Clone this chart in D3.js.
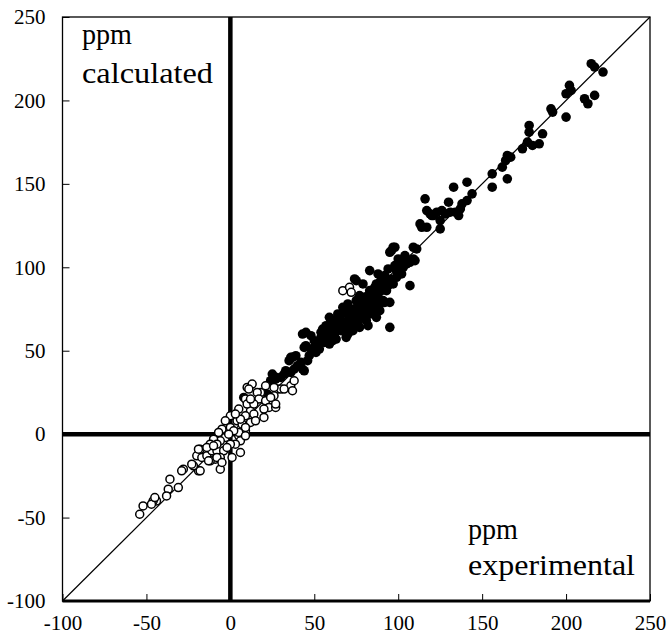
<!DOCTYPE html>
<html>
<head>
<meta charset="utf-8">
<script src="https://cdn.jsdelivr.net/npm/d3@7"></script>
<style>
  body { margin: 0; background: #fff; }
  text { font-family: "Liberation Serif", "Times New Roman", serif; fill: #000; }
</style>
</head>
<body>
<script>
//Data: [experimental, calculated]
const filledPoints = [
  [215,222],[217,220],[222,217],[202,209],[200,204],[203,206],[211,201],[217,203],[213,198],[191,195],
  [192,193],[200,190],[178,185],[178,181],[186,180],[177,175],[180,173],[184,174],[174,171],[165,167],
  [167,166],[164,164],[162,160],[165,153],[156,156],[156,148],[144,144],[141,151],[133,148],[130,139],
  [141,140],[138,138],[137,135],[134,133],[131,133],[128,132],[136,131],[116,141],[117,134],[119,132],
  [121,131],[123,133],[125,128],[125,123],[114,124],[117,124],[113,126],[126,134],[120,131],
  [98,112],[96,110],[111,111],[109,112],[104,107],[100,105],[109,105],[110,104],[101,103],[99,98],
  [102,96],[107,89],[95,109],[97,112],[103,100],[105,102],[107,103],[98,101],[100,96],
  [83,98],[88,96],[74,93],[94,89],[91,80],[95,79],[89,74],[87,70],[95,64],[84,85],
  [87,82],[81,80],[78,76],[75,72],[71,70],[68,74],[64,72],[65,66],[60,68],[62,62],
  [58,60],[54,58],[50,56],[43,60],[48,59],[54,61],[73,62],[77,64],[81,68],[83,72],
  [69,58],[45,53],[36,46],[39,47],[48,51],[45,61],[44,38],[25,36],[30,34],[27,33],
  [8,22],[22,24],[75,92],[79,90],[93,86],[92,79],[82,65],[59,70],[44,52],[24,32],
  [27,34],[32,36],[36,37],[43,39],[35,44],[37,46],[42,43],[56,55],
  [60,64],[62,66],[64,63],[66,68],[68,66],[70,72],[72,68],[74,75],[76,71],[78,79],
  [80,76],[82,83],[84,78],[86,88],[88,84],[90,86],[66,62],[70,65],[72,74],[74,70],
  [76,78],[78,73],[80,82],[82,77],[85,80],[87,90],[89,78],[92,90],[58,62],[60,58],
  [62,60],[64,70],[66,72],[68,62],[70,60],[72,66],[75,80],[77,83],[79,70],[81,74],
  [83,86],[85,76],[70,78],[67,76],[65,70],[63,67],[61,56],[59,54],[57,65],[55,63],
  [52,54],[50,52],[54,57],[72,62],[76,66],[80,71],[84,82],[86,75],[90,93],[91,87],
  [93,92],[96,93],[97,90],[99,94],[92,95],[94,99],[89,91],
  [47,47],[51,49],[53,51],[57,57],[40,41],[46,44],[38,39],[33,38],[63,57],[67,64]
];

const openPoints = [
  [10,28],[9,21],[0,11],[-3,8],[-5,3],[-7,1],[0,4],[4,8],[7,6],[9,2],
  [5,-1],[6,-4],[3,-6],[0,-6],[-3,-2],[-6,-4],[-10,-3],[-12,-6],[-15,-9],[-18,-9],
  [-20,-13],[-17,-14],[-14,-13],[-11,-10],[-8,-10],[-4,-10],[-2,-8],[-6,-14],[-9,-15],[-12,-16],
  [-6,-21],[6,-11],[-19,-22],[-22,-19],[-23,-18],[-28,-21],[-29,-22],[-36,-27],[-31,-32],[-37,-33],
  [-38,-37],[-44,-40],[-46,-40],[-47,-42],[-52,-43],[-54,-48],
  [13,30],[11,27],[18,25],[28,27],[30,27],[36,29],[37,26],[26,23],[67,86],[71,88],[72,85],
  [16,25],[17,21],[21,20],[23,16],[27,16],[20,15],[12,14],[9,11],[6,9],
  [10,18],[14,12],[5,15],[20,10],[12,7],[9,4],[5,1],[9,-1],[38,32],[32,27],
  [26,28],[27,18],[24,22],[14,18],[21,29],[12,21],[-8,-6],[-14,-8],[-19,-9],[-13,-16],
  [-8,-14],[-5,-17],[-18,-22],[-45,-38],[1,-14],[2,2],[-1,0],[3,12],[15,8],[-10,-7]
];

const xTicks = [-100, -50, 0, 50, 100, 150, 200, 250];
const yTicks = [-100, -50, 0, 50, 100, 150, 200, 250];
const topLabel = ["ppm", "calculated"];
const bottomLabel = ["ppm", "experimental"];

//Sizes
const width = 667;
const height = 639;

const svg = d3.select("body")
    .append("svg")
    .attr("width", width)
    .attr("height", height)
    .style("background-color", "#fff");

const xScale = d3.scaleLinear().domain([-100, 250]).range([62.5, 650]);
const yScale = d3.scaleLinear().domain([-100, 250]).range([601, 17]);

//Frame
const [x0, x1] = xScale.range();
const [y0, y1] = yScale.range();
svg.append("rect")
    .attr("x", x0).attr("y", y1)
    .attr("width", x1 - x0).attr("height", y0 - y1)
    .attr("fill", "none")
    .attr("stroke", "#000")
    .attr("stroke-width", 1.3);

//Axes (ticks inside), hyphen minus like the original
const xAxis = d3.axisBottom(xScale).tickValues(xTicks).tickSizeInner(-7).tickSizeOuter(0).tickPadding(14).tickFormat(d => String(d));
const yAxis = d3.axisLeft(yScale).tickValues(yTicks).tickSizeInner(-7).tickSizeOuter(0).tickPadding(17).tickFormat(d => String(d));

const gx = svg.append("g").attr("transform", `translate(0, ${y0})`).call(xAxis);
const gy = svg.append("g").attr("transform", `translate(${x0}, 0)`).call(yAxis);
[gx, gy].forEach(g => {
    g.select(".domain").remove();
    g.selectAll(".tick line").attr("stroke", "#000").attr("stroke-width", 1);
    g.selectAll(".tick text")
        .style("font-family", "'Liberation Serif', 'Times New Roman', serif")
        .style("font-size", "21px")
        .attr("fill", "#000");
});

//Thick bottom edge
svg.append("line")
    .attr("x1", x0).attr("x2", x1)
    .attr("y1", y0).attr("y2", y0)
    .attr("stroke", "#000").attr("stroke-width", 3);

//Zero lines
svg.append("line")
    .attr("x1", xScale(0)).attr("x2", xScale(0))
    .attr("y1", y1).attr("y2", y0)
    .attr("stroke", "#000").attr("stroke-width", 4.5);
svg.append("line")
    .attr("x1", x0).attr("x2", x1)
    .attr("y1", yScale(0)).attr("y2", yScale(0))
    .attr("stroke", "#000").attr("stroke-width", 4.5);

//Diagonal y = x
svg.append("line")
    .attr("x1", xScale(-100)).attr("y1", yScale(-100))
    .attr("x2", xScale(250)).attr("y2", yScale(250))
    .attr("stroke", "#000").attr("stroke-width", 1.2);

//Points
svg.append("g").selectAll("circle")
    .data(filledPoints)
    .enter()
    .append("circle")
    .attr("cx", d => xScale(d[0]))
    .attr("cy", d => yScale(d[1]))
    .attr("r", 4.8)
    .attr("fill", "#000");

svg.append("g").selectAll("circle")
    .data(openPoints)
    .enter()
    .append("circle")
    .attr("cx", d => xScale(d[0]))
    .attr("cy", d => yScale(d[1]))
    .attr("r", 4)
    .attr("fill", "#fff")
    .attr("stroke", "#000")
    .attr("stroke-width", 1.5);

//Labels
const topWidths = [50, 131];
svg.append("g").selectAll("text")
    .data(topLabel)
    .enter()
    .append("text")
    .attr("x", 82)
    .attr("y", (d, i) => 44 + i * 39)
    .attr("textLength", (d, i) => topWidths[i])
    .attr("lengthAdjust", "spacingAndGlyphs")
    .style("font-size", "30px")
    .text(d => d);

const bottomWidths = [50, 167];
svg.append("g").selectAll("text")
    .data(bottomLabel)
    .enter()
    .append("text")
    .attr("x", 468)
    .attr("y", (d, i) => 539 + i * 36)
    .attr("textLength", (d, i) => bottomWidths[i])
    .attr("lengthAdjust", "spacingAndGlyphs")
    .style("font-size", "30px")
    .text(d => d);
</script>
</body>
</html>
